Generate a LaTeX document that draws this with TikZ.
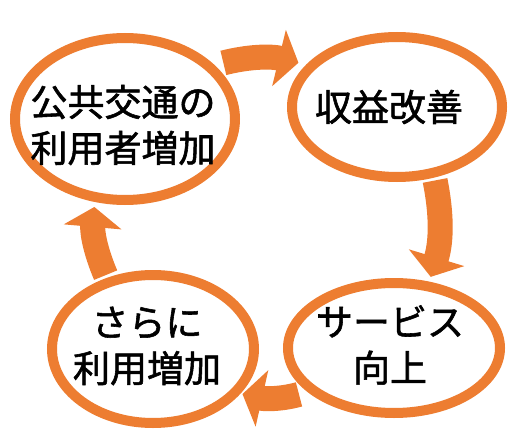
\documentclass[tikz,border=0pt]{standalone}
\usepackage{fontspec}
\newfontfamily\jpfont{Noto Sans CJK JP}[FakeBold=1.5]
\usetikzlibrary{shapes.geometric,arrows.meta}
\definecolor{loop}{RGB}{237,125,49}

\begin{document}
\begin{tikzpicture}[x=1pt,y=-1pt,
	stage/.style={ellipse,draw=loop,line width=10pt,fill=white,inner sep=0pt},
	word/.style={align=center,inner sep=0pt,font=\jpfont\fontsize{37}{46}\selectfont},
	flow/.style={draw=loop,line width=25pt,-{Triangle[length=20pt,width=57pt]},bend left=14}]
	\useasboundingbox (0,0) rectangle (519,433);
	\node[stage,minimum width=220pt,minimum height=162pt] (use) at (125,119) {};
	\node[stage,minimum width=210pt,minimum height=140pt] (rev) at (397,107) {};
	\node[stage,minimum width=212pt,minimum height=130pt] (svc) at (394,348) {};
	\node[stage,minimum width=202pt,minimum height=148pt] (more) at (153,349) {};
	\node[word] (useT) at (123,125) {公共交通の\\利用者増加};
	\node[word] (revT) at (389,107) {収益改善};
	\node[word] (svcT) at (390,345) {サービス\\向上};
	\node[word] (moreT) at (147,346) {さらに\\利用増加};
	%cycle
	\draw[flow,shorten <=9pt,shorten >=8pt] (use.31) to (rev.155);
	\draw[flow,shorten <=3pt,shorten >=5pt] (rev.-62) to (svc.62);
	\draw[flow,shorten <=9pt,shorten >=2pt] (svc.207) to (more.-27);
	\draw[flow,shorten <=3pt,shorten >=5pt] (more.123) to (use.250);
\end{tikzpicture}
\end{document}
